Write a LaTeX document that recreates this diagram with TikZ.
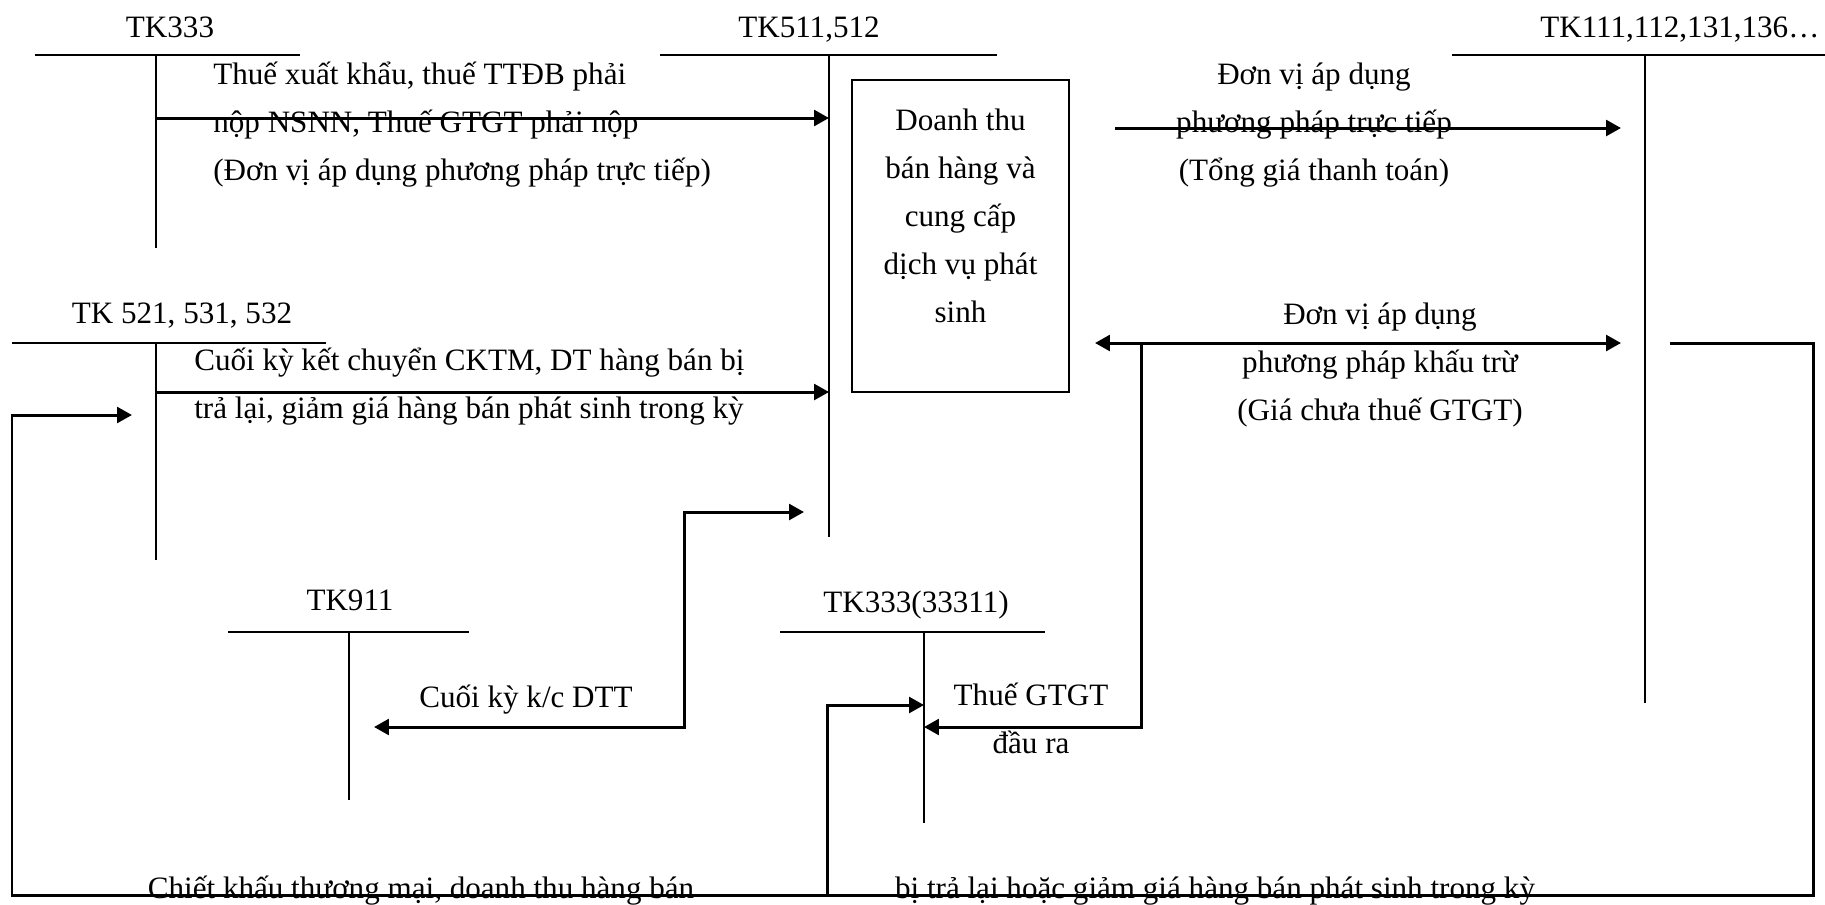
\documentclass[tikz,border=0pt]{standalone}
\usepackage{fontspec}
\setmainfont{Liberation Serif}
\usetikzlibrary{arrows.meta}

\begin{document}
\begin{tikzpicture}[x=0.02cm,y=-0.02cm,
  every node/.style={font=\fontsize{17.7}{27.2}\selectfont,inner sep=0pt},
  tk/.style={anchor=base},
  lbl/.style={anchor=base,align=center},
  tline/.style={line width=1.4pt},
  vline/.style={line width=1.1pt},
  flow/.style={line width=1.7pt,-{Triangle[length=8.5pt,width=9pt]}},
  twoway/.style={line width=1.7pt,{Triangle[length=8.5pt,width=9pt]}-{Triangle[length=8.5pt,width=9pt]}}]
  \useasboundingbox (0,0) rectangle (1825,904);

  % tai khoan chu T
  \node[tk] (tk333) at (170,37) {TK333};
  \draw[tline] (35,55) -- (300,55);
  \draw[vline] (156,55) -- (156,248);

  \node[tk] (tk511) at (809,37) {TK511,512};
  \draw[tline] (660,55) -- (997,55);
  \draw[vline] (829,55) -- (829,537);

  \node[tk,anchor=base west] (tk111) at (1540,37) {TK111,112,131,136…};
  \draw[tline] (1452,55) -- (1825,55);
  \draw[vline] (1645,55) -- (1645,703);

  \node[tk] (tk521) at (182,323) {TK 521, 531, 532};
  \draw[tline] (12,343) -- (326,343);
  \draw[vline] (156,343) -- (156,560);

  \node[tk] (tk911) at (350,610) {TK911};
  \draw[tline] (228,632) -- (469,632);
  \draw[vline] (349,632) -- (349,800);

  \node[tk] (tk33311) at (916,612) {TK333(33311)};
  \draw[tline] (780,632) -- (1045,632);
  \draw[vline] (924,632) -- (924,823);

  % o doanh thu
  \node[draw,line width=1.1pt,minimum width=4.34cm,minimum height=6.24cm] (dt) at (960.5,236) {};
  \node[lbl] (dttxt) at (960.5,322) {Doanh thu\\bán hàng và\\cung cấp\\dịch vụ phát\\sinh};

  % diem dau, diem cuoi
  \coordinate (a1) at (156,118);  \coordinate (b1) at (829,118);
  \coordinate (a2) at (1115,128); \coordinate (b2) at (1621,128);
  \coordinate (a3) at (156,392);  \coordinate (b3) at (829,392);
  \coordinate (a4) at (1095,343); \coordinate (b4) at (1621,343);
  \coordinate (a5) at (1141,343); \coordinate (b5) at (924,727);
  \coordinate (a6) at (804,512);  \coordinate (c6) at (684,512);
  \coordinate (b6) at (374,727);
  \coordinate (a7) at (1670,343); \coordinate (c7) at (1813,895);
  \coordinate (d7) at (12,895);   \coordinate (b7) at (132,415);
  \coordinate (a8) at (827,895);  \coordinate (b8) at (924,705);

  \draw[flow] (a1) -- (b1);
  \draw[flow] (a2) -- (b2);
  \draw[flow] (a3) -- (b3);
  \draw[twoway] (a4) -- (b4);
  \draw[flow] (a5) |- (b5);
  \draw[twoway] (a6) -- (c6) |- (b6);
  \draw[flow] (a7) -| (c7) -- (d7) |- (b7);
  \draw[flow] (a8) |- (b8);

  % nhan
  \node[lbl,align=left,anchor=base west] (lthue) at (213,180) {Thuế xuất khẩu, thuế TTĐB phải\\nộp NSNN, Thuế GTGT phải nộp\\(Đơn vị áp dụng phương pháp trực tiếp)};
  \node[lbl] (ltt) at (1314,180) {Đơn vị áp dụng\\phương pháp trực tiếp\\(Tổng giá thanh toán)};
  \node[lbl,align=left,anchor=base west] (lckkc) at (194,418) {Cuối kỳ kết chuyển CKTM, DT hàng bán bị\\trả lại, giảm giá hàng bán phát sinh trong kỳ};
  \node[lbl] (lkt) at (1380,420) {Đơn vị áp dụng\\phương pháp khấu trừ\\(Giá chưa thuế GTGT)};
  \node[lbl] (lgtgt) at (1031,753) {Thuế GTGT\\đầu ra};
  \node[tk] (ldtt) at (526,707) {Cuối kỳ k/c DTT};
  \node[tk] (lck1) at (421,898) {Chiết khấu thương mại, doanh thu hàng bán};
  \node[tk] (lck2) at (1215,898) {bị trả lại hoặc giảm giá hàng bán phát sinh trong kỳ};
\end{tikzpicture}
\end{document}
